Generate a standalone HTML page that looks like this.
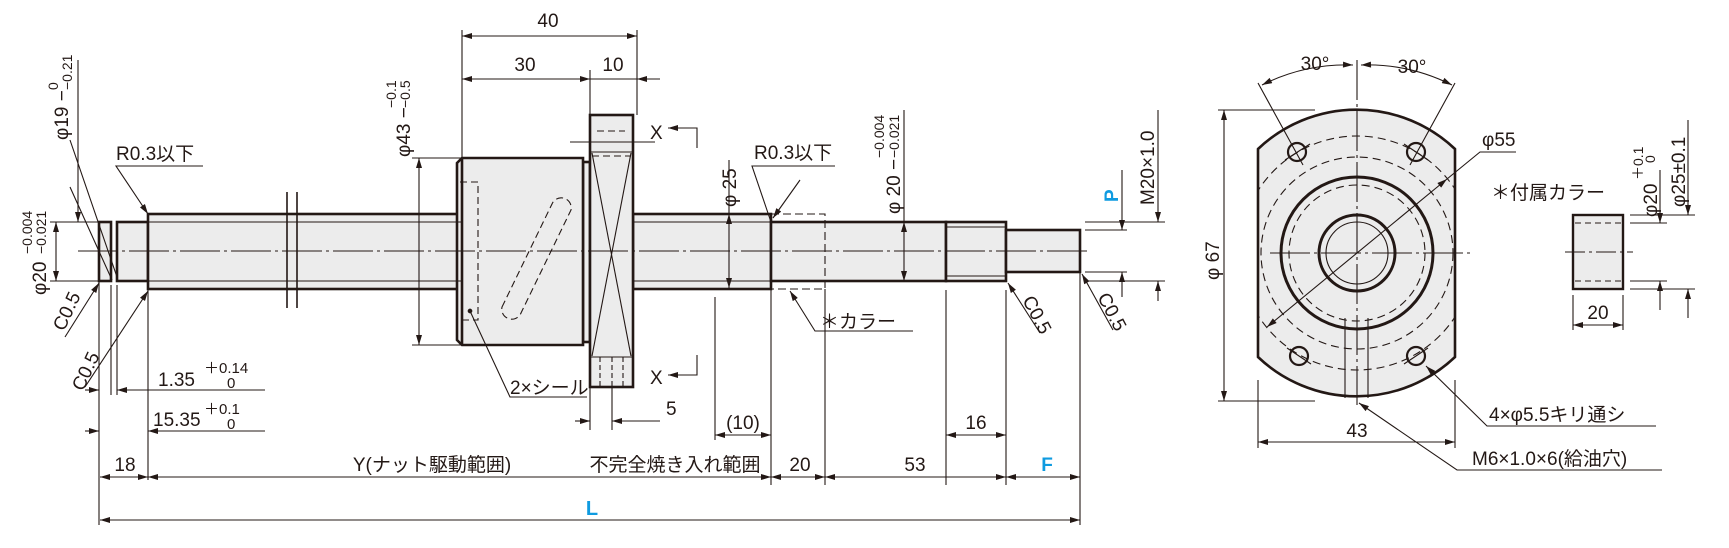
<!DOCTYPE html>
<html><head><meta charset="utf-8"><style>
html,body{margin:0;padding:0;background:#fff}
svg{display:block}
text{font-family:"Liberation Sans Narrow","Liberation Sans","Noto Sans CJK JP",sans-serif;fill:#231815}
.b{fill:#0f9be0;font-weight:bold}
</style></head><body>
<svg width="1729" height="548" viewBox="0 0 1729 548" xmlns="http://www.w3.org/2000/svg">
<defs>
<marker id="a" viewBox="0 0 10 6" refX="10" refY="3" markerWidth="11" markerHeight="6" markerUnits="userSpaceOnUse" orient="auto-start-reverse"><path d="M0,0L10,3L0,6z" fill="#231815"/></marker>
<clipPath id="fc"><path d="M1258,149 A143,143 0 0 1 1455,149 L1455,357 A143,143 0 0 1 1258,357 Z"/></clipPath>
</defs>
<g stroke="#231815" fill="none">
<g fill="#ececec" stroke-width="2.6">
<rect x="99" y="222" width="12" height="59"/>
<rect x="117" y="222" width="31" height="59"/>
<rect x="148" y="214" width="314" height="75"/>
<rect x="633" y="214" width="138" height="75"/>
<rect x="771" y="222" width="175" height="59"/>
<rect x="946" y="222" width="60" height="59"/>
<rect x="1006" y="230" width="74" height="42"/>
<rect x="583" y="162" width="7" height="180"/>
<path d="M462,158 L583,158 L583,345 L462,345 L457,340 L457,163 Z"/>
<rect x="590" y="115" width="43" height="272"/>
</g>
<g stroke-width="1.1">
<line x1="148" y1="222" x2="462" y2="222"/><line x1="148" y1="281" x2="462" y2="281"/>
<line x1="633" y1="222" x2="771" y2="222"/><line x1="633" y1="281" x2="771" y2="281"/>
<line x1="946" y1="227" x2="1006" y2="227"/><line x1="946" y1="276" x2="1006" y2="276"/>
<line x1="462" y1="158" x2="462" y2="345" stroke-width="2.6"/>
<line x1="287" y1="192" x2="287" y2="308" stroke-width="1.6"/><line x1="297" y1="192" x2="297" y2="308" stroke-width="1.6"/>
<line x1="78" y1="251" x2="1090" y2="251" stroke-dasharray="40,4,3,4"/>
<path d="M460,182 H478 V320 H460" stroke-dasharray="7,4"/>
<path d="M502,307 L552,204 A10,10 0 0 1 571,210 L521,313 A10,10 0 0 1 502,307 Z" stroke-dasharray="7,4"/>
<line x1="590" y1="152" x2="633" y2="152"/><line x1="590" y1="357" x2="633" y2="357"/>
<line x1="592" y1="153" x2="631" y2="356"/><line x1="631" y1="153" x2="592" y2="356"/>
<line x1="597" y1="131" x2="625" y2="131" stroke-dasharray="7,4"/>
<line x1="592" y1="156" x2="631" y2="156" stroke-dasharray="7,4"/>
<path d="M600,357 V387 M612,357 V387 M623,357 V387" stroke-dasharray="5,3"/>
<line x1="570" y1="142" x2="655" y2="142"/>
<path d="M697,148 V128 H668" marker-end="url(#a)"/>
<path d="M697,355 V375 H668" marker-end="url(#a)"/>
<path d="M771,214 H825 V289 H771" stroke-dasharray="8,4"/>
<line x1="78" y1="60" x2="78" y2="222" marker-end="url(#a)"/>
<line x1="73" y1="222" x2="99" y2="222"/><line x1="50" y1="281" x2="99" y2="281"/><line x1="50" y1="222" x2="73" y2="222"/>
<line x1="56" y1="222" x2="56" y2="281" marker-start="url(#a)" marker-end="url(#a)"/>
<line x1="70" y1="140" x2="117" y2="277"/>
<line x1="70" y1="187" x2="112" y2="280"/>
<path d="M203,166 H116 L148,214" marker-end="url(#a)"/>
<line x1="65" y1="337" x2="99" y2="283" marker-end="url(#a)"/>
<line x1="85" y1="387" x2="148" y2="291" marker-end="url(#a)"/>
<line x1="99" y1="281" x2="99" y2="525"/><line x1="111" y1="285" x2="111" y2="395"/><line x1="117" y1="285" x2="117" y2="395"/>
<line x1="148" y1="289" x2="148" y2="480"/>
<line x1="85" y1="390" x2="99" y2="390" marker-end="url(#a)"/><line x1="265" y1="390" x2="117" y2="390" marker-end="url(#a)"/>
<line x1="85" y1="431" x2="99" y2="431" marker-end="url(#a)"/><line x1="265" y1="431" x2="148" y2="431" marker-end="url(#a)"/>
<line x1="462" y1="30" x2="462" y2="158"/><line x1="637" y1="30" x2="637" y2="115"/><line x1="590" y1="70" x2="590" y2="115"/>
<line x1="462" y1="36" x2="637" y2="36" marker-start="url(#a)" marker-end="url(#a)"/>
<line x1="462" y1="79" x2="590" y2="79" marker-start="url(#a)" marker-end="url(#a)"/>
<line x1="660" y1="79" x2="637" y2="79" marker-end="url(#a)"/><line x1="590" y1="79" x2="637" y2="79"/>
<line x1="412" y1="158" x2="462" y2="158"/><line x1="412" y1="345" x2="462" y2="345"/>
<line x1="419" y1="158" x2="419" y2="345" marker-start="url(#a)" marker-end="url(#a)"/>
<path d="M587,397 H510 L470,311"/><circle cx="470" cy="311" r="1.8" fill="#231815"/>
<line x1="590" y1="387" x2="590" y2="430"/><line x1="612" y1="387" x2="612" y2="430"/>
<line x1="575" y1="421" x2="590" y2="421" marker-end="url(#a)"/><line x1="660" y1="421" x2="612" y2="421" marker-end="url(#a)"/>
<line x1="729" y1="160" x2="729" y2="214"/>
<line x1="729" y1="214" x2="729" y2="288" marker-start="url(#a)" marker-end="url(#a)"/>
<path d="M835,166 H752 L771,222" /><line x1="800" y1="180" x2="773" y2="218" marker-end="url(#a)"/>
<line x1="904" y1="110" x2="904" y2="222"/>
<line x1="904" y1="222" x2="904" y2="281" marker-start="url(#a)" marker-end="url(#a)"/>
<path d="M913,331 H815 L790,291" marker-end="url(#a)"/>
<line x1="715" y1="297" x2="715" y2="440"/><line x1="771" y1="289" x2="771" y2="485"/>
<line x1="825" y1="289" x2="825" y2="485"/><line x1="946" y1="290" x2="946" y2="485"/><line x1="1006" y1="290" x2="1006" y2="440"/>
<line x1="1080" y1="272" x2="1080" y2="525"/><line x1="1006" y1="440" x2="1006" y2="485"/>
<line x1="715" y1="435" x2="771" y2="435" marker-start="url(#a)" marker-end="url(#a)"/>
<line x1="946" y1="435" x2="1006" y2="435" marker-start="url(#a)" marker-end="url(#a)"/>
<line x1="1040" y1="333" x2="1008" y2="283" marker-end="url(#a)"/>
<line x1="1113" y1="330" x2="1082" y2="274" marker-end="url(#a)"/>
<line x1="1085" y1="230" x2="1127" y2="230"/><line x1="1085" y1="272" x2="1127" y2="272"/>
<line x1="1122" y1="170" x2="1122" y2="230" marker-end="url(#a)"/><line x1="1122" y1="297" x2="1122" y2="272" marker-end="url(#a)"/>
<line x1="1085" y1="222" x2="1165" y2="222"/><line x1="1085" y1="281" x2="1165" y2="281"/>
<line x1="1158" y1="110" x2="1158" y2="222" marker-end="url(#a)"/><line x1="1158" y1="301" x2="1158" y2="281" marker-end="url(#a)"/>
<line x1="100" y1="477" x2="148" y2="477" marker-start="url(#a)" marker-end="url(#a)"/>
<line x1="148" y1="477" x2="771" y2="477" marker-start="url(#a)" marker-end="url(#a)"/>
<line x1="771" y1="477" x2="825" y2="477" marker-start="url(#a)" marker-end="url(#a)"/>
<line x1="825" y1="477" x2="1006" y2="477" marker-start="url(#a)" marker-end="url(#a)"/>
<line x1="1006" y1="477" x2="1080" y2="477" marker-start="url(#a)" marker-end="url(#a)"/>
<line x1="100" y1="520" x2="1080" y2="520" marker-start="url(#a)" marker-end="url(#a)"/>
</g>
<path d="M1258,149 A143,143 0 0 1 1455,149 L1455,357 A143,143 0 0 1 1258,357 Z" fill="#ececec" stroke-width="2.6"/>
<g clip-path="url(#fc)"><circle cx="1357" cy="253" r="117" stroke-dasharray="8,5" stroke-width="1.1"/></g>
<circle cx="1357" cy="253" r="96" stroke-dasharray="8,5" stroke-width="1.1"/>
<circle cx="1357" cy="253" r="76" stroke-width="3"/>
<circle cx="1357" cy="253" r="68" stroke-dasharray="8,5" stroke-width="1.1"/>
<circle cx="1357" cy="253" r="38" stroke-width="3"/>
<circle cx="1357" cy="253" r="31" stroke-width="1.1"/>
<g stroke-width="2.2"><circle cx="1297" cy="152" r="9"/><circle cx="1416" cy="152" r="9"/><circle cx="1299" cy="356" r="9"/><circle cx="1416" cy="356" r="9"/></g>
<g stroke-width="1.1">
<path d="M1285,160 L1310,144 M1404,144 L1428,160 M1287,348 L1311,364 M1404,364 L1428,348"/>
<path d="M1258,83 L1303,165 M1455,83 L1410,165"/>
<path d="M1262,85 A188,188 0 0 1 1353,65" marker-start="url(#a)" marker-end="url(#a)"/>
<path d="M1361,65 A188,188 0 0 1 1452,85" marker-start="url(#a)" marker-end="url(#a)"/>
<line x1="1357" y1="60" x2="1357" y2="405" stroke-dasharray="40,4,3,4"/>
<line x1="1270" y1="253" x2="1472" y2="253" stroke-dasharray="40,4,3,4"/>
<path d="M1345,318 V398 M1368,318 V398" />
<line x1="1218" y1="110" x2="1315" y2="110"/><line x1="1218" y1="401" x2="1315" y2="401"/>
<line x1="1224" y1="110" x2="1224" y2="401" marker-start="url(#a)" marker-end="url(#a)"/>
<line x1="1258" y1="380" x2="1258" y2="448"/><line x1="1455" y1="380" x2="1455" y2="448"/>
<line x1="1258" y1="442" x2="1455" y2="442" marker-start="url(#a)" marker-end="url(#a)"/>
<path d="M1516,152 H1480 L1447,179"/>
<line x1="1447" y1="179" x2="1267" y2="327" marker-start="url(#a)" marker-end="url(#a)"/>
<path d="M1656,426 H1487 L1426,366" marker-end="url(#a)"/>
<path d="M1662,470 H1457 L1359,403" marker-end="url(#a)"/>
<rect x="1573" y="215" width="50" height="74" fill="#ececec" stroke-width="2.4"/>
<line x1="1575" y1="223" x2="1621" y2="223" stroke-dasharray="6,4"/><line x1="1575" y1="281" x2="1621" y2="281" stroke-dasharray="6,4"/>
<line x1="1565" y1="252" x2="1633" y2="252" stroke-dasharray="20,4,3,4"/>
<line x1="1630" y1="223" x2="1667" y2="223"/><line x1="1630" y1="281" x2="1667" y2="281"/>
<line x1="1630" y1="215" x2="1695" y2="215"/><line x1="1630" y1="289" x2="1695" y2="289"/>
<line x1="1660" y1="170" x2="1660" y2="223" marker-end="url(#a)"/><line x1="1660" y1="310" x2="1660" y2="281" marker-end="url(#a)"/>
<line x1="1688" y1="120" x2="1688" y2="215" marker-end="url(#a)"/><line x1="1688" y1="318" x2="1688" y2="289" marker-end="url(#a)"/>
<line x1="1573" y1="295" x2="1573" y2="330"/><line x1="1623" y1="295" x2="1623" y2="330"/>
<line x1="1573" y1="325" x2="1623" y2="325" marker-start="url(#a)" marker-end="url(#a)"/>
</g>
</g>
<g font-size="19">
<text transform="translate(68,140) rotate(-90)">φ19 −</text>
<text transform="translate(58,90) rotate(-90)" font-size="14">0</text>
<text transform="translate(72,90) rotate(-90)" font-size="14">−0.21</text>
<text transform="translate(46,295) rotate(-90)">φ20</text>
<text transform="translate(32,254) rotate(-90)" font-size="14">−0.004</text>
<text transform="translate(46,254) rotate(-90)" font-size="14">−0.021</text>
<text transform="translate(64,332) rotate(-65)">C0.5</text>
<text transform="translate(83,392) rotate(-65)">C0.5</text>
<text x="116" y="160">R0.3以下</text>
<text x="158" y="386">1.35</text><text x="204" y="373" font-size="15">＋0.14</text><text x="227" y="388" font-size="15">0</text>
<text x="153" y="426">15.35</text><text x="204" y="414" font-size="15">＋0.1</text><text x="227" y="429" font-size="15">0</text>
<text x="548" y="27" text-anchor="middle">40</text>
<text x="525" y="71" text-anchor="middle">30</text><text x="613" y="71" text-anchor="middle">10</text>
<text transform="translate(410,157) rotate(-90)">φ43 −</text>
<text transform="translate(396,108) rotate(-90)" font-size="14">−0.1</text>
<text transform="translate(410,108) rotate(-90)" font-size="14">−0.5</text>
<text x="650" y="139">X</text><text x="650" y="384">X</text>
<text x="510" y="394">2×シール</text>
<text x="666" y="415">5</text>
<text transform="translate(736,207) rotate(-90)">φ 25</text>
<text x="754" y="159">R0.3以下</text>
<text transform="translate(900,214) rotate(-90)">φ 20 −</text>
<text transform="translate(884,158) rotate(-90)" font-size="14">−0.004</text>
<text transform="translate(899,158) rotate(-90)" font-size="14">−0.021</text>
<text x="820" y="328">＊カラー</text>
<text x="743" y="429" text-anchor="middle">(10)</text>
<text x="976" y="429" text-anchor="middle">16</text>
<text transform="translate(1022,300) rotate(62)">C0.5</text>
<text transform="translate(1097,297) rotate(62)">C0.5</text>
<text class="b" transform="translate(1118,202) rotate(-90)">P</text>
<text transform="translate(1154,205) rotate(-90)">M20×1.0</text>
<text x="125" y="471" text-anchor="middle">18</text>
<text x="432" y="471" text-anchor="middle">Y(ナット駆動範囲)</text>
<text x="675" y="471" text-anchor="middle">不完全焼き入れ範囲</text>
<text x="800" y="471" text-anchor="middle">20</text>
<text x="915" y="471" text-anchor="middle">53</text>
<text class="b" x="1047" y="471" text-anchor="middle">F</text>
<text class="b" x="592" y="515" text-anchor="middle" font-size="20">L</text>
<text x="1315" y="70" text-anchor="middle">30°</text><text x="1412" y="73" text-anchor="middle">30°</text>
<text transform="translate(1219,280) rotate(-90)">φ 67</text>
<text x="1482" y="146">φ55</text>
<text x="1357" y="437" text-anchor="middle">43</text>
<text x="1489" y="421">4×φ5.5キリ通シ</text>
<text x="1472" y="465">M6×1.0×6(給油穴)</text>
<text x="1491" y="199">＊付属カラー</text>
<text transform="translate(1657,217) rotate(-90)">φ20</text>
<text transform="translate(1643,180) rotate(-90)" font-size="14">＋0.1</text>
<text transform="translate(1655,163) rotate(-90)" font-size="14">0</text>
<text transform="translate(1685,207) rotate(-90)">φ25±0.1</text>
<text x="1598" y="319" text-anchor="middle">20</text>
</g>
</svg>
</body></html>
